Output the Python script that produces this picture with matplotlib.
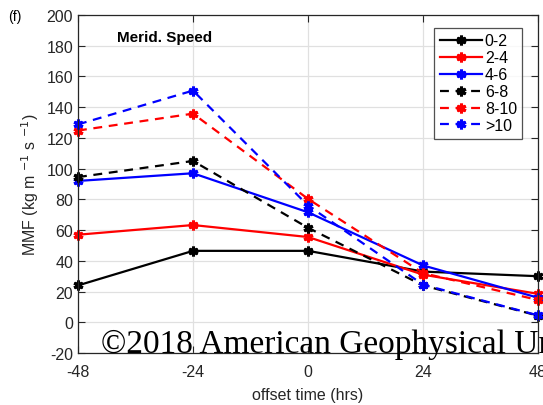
import matplotlib
matplotlib.use("Agg")
import matplotlib.pyplot as plt

plt.rcParams['font.family'] = ['Liberation Sans', 'DejaVu Sans']
plt.rcParams['axes.unicode_minus'] = False

x = [-48, -24, 0, 24, 48]
labels = ["0-2", "2-4", "4-6", "6-8", "8-10", ">10"]
s_0_2 = [24, 46.5, 46.5, 33, 30]
s_2_4 = [57, 63.3, 55.5, 31, 18.5]
s_4_6 = [92, 97, 71.6, 37, 16]
s_6_8 = [94.5, 105, 61.5, 24, 4.3]
s_8_10 = [124.8, 135.8, 80.3, 32, 14.5]
s_gt10 = [128.8, 150.8, 76, 24.5, 4.5]
series = [s_0_2, s_2_4, s_4_6, s_6_8, s_8_10, s_gt10]
colors = ['black', 'red', 'blue', 'black', 'red', 'blue']
styles = ['-', '-', '-', '--', '--', '--']
xticks = [-48, -24, 0, 24, 48]
yticks = list(range(-20, 201, 20))

fig = plt.figure(figsize=(5.43, 4.06), dpi=100)
ax = fig.add_axes([0.1436, 0.128, 0.8474, 0.8326])

for ys, c, ls, lab in zip(series, colors, styles, labels):
    ax.plot(x, ys, color=c, linestyle=ls, linewidth=1.6, marker=(6, 2, 0),
            markersize=7, markeredgewidth=2.2, label=lab, clip_on=False,
            dashes=(4, 3) if ls == '--' else (None, None))

ax.set_xlim(-48, 48)
ax.set_ylim(-20, 200)
ax.set_xticks(xticks)
ax.set_yticks(yticks)
ax.tick_params(direction='in', length=5, labelsize=11.5, colors='#262626',
               top=True, right=True, width=0.8)
ax.tick_params(axis='x', pad=8)
ax.grid(True, color='#e0e0e0', linewidth=0.9)
ax.set_axisbelow(True)
for sp in ax.spines.values():
    sp.set_color('#262626')
    sp.set_linewidth(0.9)
ax.set_xlabel('offset time (hrs)', fontsize=11.5, color='#262626', labelpad=6)
ax.set_ylabel(r'MMF (kg m $^{-1}$ s $^{-1}$)', fontsize=11.5, color='#262626', labelpad=4)

leg = ax.legend(loc='upper right', bbox_to_anchor=(0.966, 0.962), fontsize=11.5,
                handlelength=2.6, handletextpad=0.2, labelspacing=0.12,
                borderpad=0.35, frameon=True, fancybox=False, borderaxespad=0)
leg.get_frame().set_edgecolor('#262626')
leg.get_frame().set_linewidth(0.9)

ax.text(0.085, 0.955, 'Merid. Speed', transform=ax.transAxes, fontsize=11,
        fontweight='bold', va='top', ha='left')
fig.text(0.015, 0.975, '(f)', fontsize=10, va='top', ha='left')
fig.text(101/543, 1 - 353/406, '\u00a92018 American Geophysical Union',
         fontsize=24, family='Liberation Serif', va='baseline', ha='left')

fig.savefig('out.png', dpi=100)
